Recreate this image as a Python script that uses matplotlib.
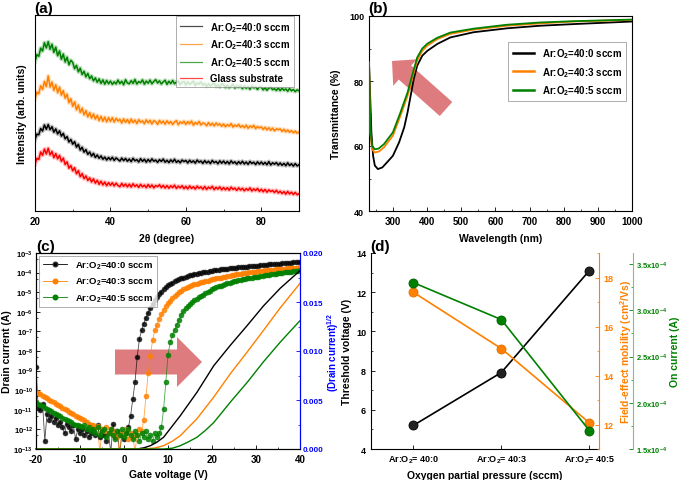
import numpy as np
import matplotlib
matplotlib.use("Agg")
import matplotlib.pyplot as plt
from matplotlib.ticker import MultipleLocator, LogLocator, NullFormatter, FixedLocator

# ======================
# DATA
# ======================
# (a) XRD, 2theta grid 20..90 step 0.5 (arb. units)
TWO_THETA = np.arange(20.0, 90.5, 0.5)
XRD_GREEN = [
    76.2, 79.8, 78.9, 83.1, 81.6, 85.9, 83.2, 86.4, 82.5, 85.1,
    80.9, 83.6, 79.2, 81.7, 77.4, 80.1, 76.0, 78.5, 74.6, 76.9,
    75.8, 72.6, 74.3, 71.0, 72.9, 69.6, 71.3, 68.4, 70.2, 67.5,
    68.9, 66.4, 67.9, 65.7, 67.4, 65.1, 66.9, 64.7, 66.6, 64.9,
    66.3, 64.6, 65.9, 64.8, 66.8, 65.0, 66.2, 64.4, 67.0, 65.3,
    64.9, 66.5, 65.1, 67.1, 64.8, 66.0, 65.4, 66.9, 64.7, 66.3,
    65.2, 66.8, 64.9, 66.1, 67.0, 65.3, 66.4, 64.8, 65.9, 66.7,
    64.6, 66.2, 65.0, 66.6, 64.9, 65.8, 66.3, 64.5, 65.7, 66.1,
    64.3, 65.9, 64.6, 65.5, 66.2, 64.1, 65.3, 64.8, 65.9, 64.2,
    65.0, 63.6, 64.9, 63.8, 64.7, 65.3, 63.5, 64.4, 63.2, 64.8,
    64.5, 63.0, 64.2, 62.9, 63.8, 64.6, 62.7, 63.9, 63.1, 64.0,
    62.4, 63.8, 62.6, 63.5, 62.1, 63.9, 62.8, 63.3, 62.0, 63.4,
    63.2, 61.8, 62.9, 61.6, 62.7, 63.1, 61.9, 62.4, 61.5, 62.8,
    61.4, 62.7, 61.6, 62.3, 61.1, 62.5, 61.3, 62.0, 60.9, 61.8,
    61.3,
]
XRD_ORANGE = [
    57.1, 60.6, 59.8, 63.9, 62.0, 66.1, 63.4, 68.9, 63.2, 65.8,
    61.6, 64.4, 60.3, 63.2, 59.1, 61.4, 57.5, 59.6, 55.2, 57.3,
    53.4, 55.7, 51.6, 54.1, 50.3, 52.5, 49.1, 51.2, 48.0, 50.2,
    47.4, 49.5, 46.9, 48.8, 46.1, 48.3, 45.8, 47.9, 45.5, 47.7,
    45.7, 47.6, 45.4, 47.3, 45.9, 46.8, 44.9, 47.0, 45.2, 46.7,
    44.8, 46.9, 45.1, 46.4, 44.6, 46.6, 45.3, 46.0, 44.5, 46.5,
    45.0, 46.3, 44.4, 46.1, 45.6, 44.2, 46.2, 44.8, 45.9, 44.3,
    46.0, 44.6, 45.7, 44.1, 45.4, 46.1, 44.0, 45.5, 44.7, 45.8,
    44.2, 45.6, 44.5, 45.9, 43.8, 45.2, 44.3, 45.7, 43.9, 44.9,
    44.6, 43.5, 45.1, 43.7, 44.8, 43.4, 44.9, 43.8, 44.5, 43.2,
    44.4, 43.0, 44.1, 43.3, 44.6, 42.8, 43.9, 43.1, 44.2, 42.7,
    43.6, 42.5, 43.8, 42.2, 43.4, 42.6, 43.7, 42.0, 43.1, 42.4,
    42.9, 41.6, 42.7, 41.4, 42.5, 41.2, 42.3, 40.9, 41.9, 41.5,
    41.9, 40.6, 41.7, 40.4, 41.3, 40.2, 41.0, 39.9, 40.8, 39.7,
    40.3,
]
XRD_BLACK = [
    36.4, 39.2, 38.9, 42.1, 40.8, 43.9, 41.7, 44.1, 41.5, 43.0,
    40.2, 41.9, 39.3, 40.9, 38.2, 39.6, 36.8, 38.0, 35.2, 36.5,
    34.1, 35.4, 32.6, 34.0, 31.1, 32.5, 30.0, 31.3, 28.9, 30.1,
    28.0, 29.4, 27.3, 28.6, 26.9, 28.1, 26.4, 27.5, 26.0, 27.3,
    26.1, 27.4, 25.8, 27.1, 26.3, 25.5, 27.0, 25.7, 26.8, 25.4,
    26.5, 25.2, 26.9, 25.6, 26.2, 25.0, 26.7, 25.3, 26.4, 24.9,
    26.3, 25.1, 26.6, 25.4, 26.0, 24.8, 26.2, 25.3, 26.5, 24.9,
    25.9, 24.7, 26.1, 25.0, 26.4, 24.8, 25.7, 24.6, 26.0, 25.2,
    25.8, 24.5, 25.9, 24.8, 25.6, 24.4, 26.0, 24.9, 25.5, 24.3,
    25.7, 24.5, 25.4, 24.2, 25.8, 24.6, 25.3, 24.1, 25.6, 24.4,
    25.5, 24.2, 25.3, 24.0, 25.6, 24.4, 25.1, 23.9, 25.2, 24.1,
    25.4, 24.0, 25.0, 23.8, 25.3, 24.2, 24.9, 23.7, 25.1, 23.9,
    25.0, 23.8, 24.8, 23.6, 25.2, 23.5, 24.6, 23.9, 24.7, 23.4,
    24.5, 23.3, 24.3, 23.1, 24.6, 23.2, 24.1, 22.9, 24.2, 23.0,
    23.6,
]
XRD_GLASS = [
    23.8, 26.9, 26.3, 30.1, 28.4, 31.6, 29.1, 32.0, 28.6, 30.4,
    27.2, 29.3, 26.6, 28.4, 25.3, 27.0, 23.7, 25.1, 21.8, 23.2,
    20.5, 22.1, 19.0, 20.6, 17.5, 19.1, 16.5, 17.9, 15.6, 16.9,
    14.8, 16.4, 14.2, 15.7, 13.6, 15.2, 13.3, 14.8, 12.9, 14.5,
    13.1, 14.4, 12.8, 14.2, 13.0, 12.4, 14.1, 12.6, 13.8, 12.3,
    13.7, 12.2, 13.9, 12.5, 13.4, 12.0, 13.6, 12.3, 13.2, 11.9,
    13.5, 12.1, 13.3, 11.8, 13.0, 12.4, 13.4, 11.9, 13.1, 11.7,
    13.0, 11.6, 12.9, 11.9, 13.2, 11.5, 12.7, 11.8, 12.9, 11.4,
    12.6, 11.3, 12.8, 11.5, 12.4, 11.2, 12.7, 11.6, 12.3, 11.1,
    12.5, 11.0, 12.2, 11.4, 12.6, 10.9, 12.1, 11.2, 12.3, 10.8,
    12.0, 10.8, 11.9, 10.6, 12.2, 11.0, 11.7, 10.5, 11.8, 10.7,
    11.6, 10.3, 11.4, 10.6, 11.8, 10.2, 11.3, 10.4, 11.5, 10.0,
    11.1, 9.8, 11.0, 9.6, 10.8, 9.9, 10.5, 9.4, 10.6, 9.2,
    10.1, 8.9, 9.9, 8.6, 10.0, 8.7, 9.6, 8.4, 9.5, 8.3,
    8.8,
]

# (b) transmittance
WL_40_0 = [230, 232, 237, 242, 247, 256, 269, 283, 300, 318, 333, 343, 352, 361, 371,
           386, 401, 430, 468, 536, 633, 730, 827, 1000]
T_40_0 = [85.7, 79.6, 64.2, 57.0, 54.0, 52.9, 53.4, 55.0, 57.0, 61.1, 65.7, 70.4, 75.5,
          80.6, 84.7, 87.8, 89.3, 91.4, 93.4, 95.0, 96.2, 97.0, 97.5, 98.3]
WL_40_3 = [230, 234, 239, 247, 259, 274, 300, 322, 343, 357, 371, 386, 401, 430, 468,
           536, 633, 730, 827, 1000]
T_40_3 = [85.7, 64.0, 59.0, 58.0, 58.3, 59.6, 63.2, 69.3, 75.5, 81.1, 86.3, 89.3, 90.9,
          92.9, 94.5, 95.8, 97.0, 97.7, 98.3, 98.8]
WL_40_5 = [230, 234, 239, 247, 258, 274, 300, 322, 343, 357, 371, 386, 401, 430, 468,
           536, 633, 730, 827, 1000]
T_40_5 = [85.7, 65.0, 60.0, 59.0, 59.2, 60.6, 64.2, 70.3, 76.5, 82.0, 87.2, 90.0, 91.5,
          93.3, 94.9, 96.1, 97.3, 98.0, 98.4, 98.9]

# (c) transfer curves, VG grid -20..40 step 0.5, log10(ID)
VG = np.arange(-20.0, 40.5, 0.5)
LOG_ID_40_0 = [
    -8.8, -10.9, -11.0, -10.7, -12.6, -11.2, -11.5, -11.3, -11.6, -11.4,
    -11.8, -11.6, -11.9, -12.2, -11.7, -11.9, -12.1, -11.8, -12.5, -12.0,
    -12.2, -12.0, -12.3, -12.1, -12.4, -12.2, -12.0, -12.3, -11.8, -12.4,
    -12.1, -12.3, -12.6, -12.2, -13.2, -11.7, -12.4, -12.1, -13.2, -12.3,
    -12.5, -12.2, -11.9, -11.3, -10.45, -9.6, -8.3, -7.4, -6.95, -6.6,
    -6.3, -6.05, -5.8, -5.58, -5.4, -5.25, -5.1, -4.97, -4.85, -4.74,
    -4.65, -4.58, -4.51, -4.45, -4.39, -4.34, -4.29, -4.25, -4.21, -4.17,
    -4.14, -4.11, -4.08, -4.06, -4.03, -4.01, -3.99, -3.97, -3.95, -3.93,
    -3.91, -3.89, -3.87, -3.86, -3.84, -3.83, -3.81, -3.80, -3.78, -3.77,
    -3.76, -3.74, -3.73, -3.72, -3.71, -3.70, -3.69, -3.68, -3.67, -3.66,
    -3.65, -3.64, -3.62, -3.61, -3.60, -3.59, -3.58, -3.57, -3.56, -3.56,
    -3.55, -3.54, -3.53, -3.52, -3.51, -3.50, -3.49, -3.48, -3.48, -3.47,
    -3.46,
]
LOG_ID_40_3 = [
    -10.1, -10.15, -10.2, -10.3, -10.35, -10.4, -10.5, -10.55, -10.6, -10.7,
    -10.75, -10.8, -10.9, -10.95, -11.0, -11.1, -11.15, -11.2, -11.3, -11.35,
    -11.4, -11.45, -11.5, -11.6, -11.7, -11.75, -11.8, -11.9, -11.85, -13.2,
    -12.0, -12.1, -11.9, -12.2, -12.0, -12.3, -12.1, -12.4, -13.2, -12.2,
    -12.3, -12.0, -12.5, -12.2, -12.4, -13.1, -12.3, -12.0, -12.1, -11.5,
    -10.3, -9.1, -8.23, -7.45, -6.95, -6.65, -6.35, -6.12, -5.9, -5.7,
    -5.55, -5.43, -5.3, -5.19, -5.08, -4.99, -4.92, -4.86, -4.8, -4.74,
    -4.68, -4.64, -4.6, -4.57, -4.54, -4.5, -4.47, -4.44, -4.41, -4.38,
    -4.35, -4.32, -4.30, -4.27, -4.25, -4.22, -4.20, -4.17, -4.15, -4.13,
    -4.11, -4.09, -4.07, -4.05, -4.04, -4.02, -4.01, -3.99, -3.98, -3.96,
    -3.95, -3.93, -3.92, -3.90, -3.89, -3.88, -3.87, -3.86, -3.85, -3.84,
    -3.83, -3.82, -3.81, -3.80, -3.79, -3.78, -3.77, -3.76, -3.75, -3.74,
    -3.72,
]
LOG_ID_40_5 = [
    -10.6, -10.7, -10.75, -10.8, -10.9, -10.95, -11.0, -11.05, -11.15, -11.2,
    -11.25, -11.3, -11.4, -11.45, -11.5, -11.55, -11.6, -11.7, -11.75, -11.8,
    -11.85, -11.9, -11.8, -12.0, -11.9, -12.1, -12.0, -12.2, -11.9, -12.3,
    -12.1, -12.0, -12.4, -12.2, -12.0, -12.3, -12.5, -12.1, -12.3, -12.0,
    -12.4, -12.2, -12.0, -12.3, -12.5, -12.1, -12.3, -12.6, -12.2, -12.4,
    -12.1, -12.5, -12.3, -12.6, -12.2, -12.4, -12.2, -11.9, -10.96, -9.6,
    -8.2, -7.55, -7.2, -6.95, -6.65, -6.4, -6.18, -5.98, -5.83, -5.7,
    -5.58, -5.48, -5.4, -5.33, -5.26, -5.19, -5.12, -5.06, -5.0, -4.93,
    -4.85, -4.8, -4.75, -4.7, -4.66, -4.62, -4.58, -4.55, -4.51, -4.48,
    -4.45, -4.42, -4.4, -4.37, -4.35, -4.32, -4.3, -4.28, -4.26, -4.24,
    -4.22, -4.2, -4.18, -4.16, -4.14, -4.12, -4.11, -4.09, -4.07, -4.06,
    -4.04, -4.02, -4.01, -3.99, -3.98, -3.96, -3.95, -3.93, -3.92, -3.9,
    -3.89,
]
# (c) sqrt(ID) lines
VG_SQ_40_0 = [-20, 2.9, 4.5, 6.0, 7.5, 9.0, 12.8, 16.6, 20.4, 24.2, 28.0, 31.7, 35.5, 40]
SQ_40_0 = [0, 0, 0.00012, 0.00034, 0.0007, 0.0012, 0.0034, 0.0058, 0.0085, 0.0106,
           0.0126, 0.0146, 0.0164, 0.0182]
VG_SQ_40_3 = [-20, 4.4, 7.0, 9.0, 11.0, 12.8, 16.6, 20.4, 24.2, 28.0, 31.7, 35.5, 40]
SQ_40_3 = [0, 0, 0.0001, 0.00034, 0.0008, 0.00136, 0.0031, 0.0053, 0.0077, 0.0099,
           0.0121, 0.0144, 0.0169]
VG_SQ_40_5 = [-20, 9.0, 11.0, 12.8, 14.5, 16.6, 18.5, 20.4, 24.2, 28.0, 31.7, 35.5, 40]
SQ_40_5 = [0, 0, 0.00008, 0.00034, 0.0007, 0.0012, 0.0019, 0.0027, 0.0048, 0.0068,
           0.0089, 0.0109, 0.0131]

# (d) device parameters
CONDITIONS = ["Ar:O$_2$= 40:0", "Ar:O$_2$= 40:3", "Ar:O$_2$= 40:5"]
V_TH = [5.2, 7.9, 13.1]
MOBILITY = [17.4, 15.1, 12.07]
I_ON = [3.30e-4, 2.90e-4, 1.70e-4]

SERIES_LABELS = ["Ar:O$_2$=40:0 sccm", "Ar:O$_2$=40:3 sccm", "Ar:O$_2$=40:5 sccm"]

# ======================
# STYLE
# ======================
plt.rcParams["font.family"] = ["Liberation Sans", "DejaVu Sans"]
plt.rcParams["font.weight"] = "bold"
plt.rcParams["axes.labelweight"] = "bold"
plt.rcParams["axes.unicode_minus"] = False
plt.rcParams["mathtext.fontset"] = "custom"
plt.rcParams["mathtext.rm"] = "Liberation Sans:bold"
plt.rcParams["mathtext.bf"] = "Liberation Sans:bold"
plt.rcParams["mathtext.it"] = "Liberation Sans:bold:italic"
plt.rcParams["mathtext.default"] = "bf"
plt.rcParams["axes.linewidth"] = 0.8
plt.rcParams["xtick.direction"] = "in"
plt.rcParams["ytick.direction"] = "in"
plt.rcParams["xtick.labelsize"] = 7
plt.rcParams["ytick.labelsize"] = 6.5
plt.rcParams["axes.labelsize"] = 7.5
plt.rcParams["legend.fontsize"] = 7

BLACK, ORANGE, GREEN, RED, BLUE = "#000000", "#ff8000", "#008000", "#ff0000", "#0000ff"
ARROW_C = "#dc7478"
W, H = 685, 481


def box(l, t, r, b):
    return [l / W, 1 - b / H, (r - l) / W, (b - t) / H]


def ticks(ax, **kw):
    ax.tick_params(which="major", length=3, width=0.6, **kw)
    ax.tick_params(which="minor", length=1.6, width=0.5, **kw)


fig = plt.figure(figsize=(W / 100, H / 100), dpi=100)

# ======================
# (a) XRD
# ======================
ax_a = fig.add_axes(box(35, 16, 299, 212))
for ys, col, lab in [(XRD_BLACK, BLACK, SERIES_LABELS[0]),
                     (XRD_ORANGE, ORANGE, SERIES_LABELS[1]),
                     (XRD_GREEN, GREEN, SERIES_LABELS[2]),
                     (XRD_GLASS, RED, "Glass substrate")]:
    # faint wide trace underneath gives the noisy band look
    ax_a.plot(TWO_THETA, ys, color=col, lw=3.0, alpha=0.25)
    ax_a.plot(TWO_THETA, ys, color=col, lw=1.1, label=lab)
ax_a.set_xlim(20, 90)
ax_a.set_ylim(0, 100)
ax_a.xaxis.set_major_locator(MultipleLocator(20))
ax_a.xaxis.set_minor_locator(MultipleLocator(10))
ax_a.set_yticks([])
ticks(ax_a, axis="x")
ax_a.set_xlabel("2θ (degree)", labelpad=5)
ax_a.set_ylabel("Intensity (arb. units)", labelpad=6)
leg = ax_a.legend(loc="upper right", bbox_to_anchor=(0.985, 1.0), frameon=True, fancybox=False,
                  edgecolor="#888888", handlelength=2.3, borderpad=0.4, labelspacing=0.4,
                  borderaxespad=0.1)
leg.get_frame().set_linewidth(0.6)
for h in leg.get_lines():
    h.set_linewidth(0.9)
    h.set_alpha(0.7)

# ======================
# (b) Transmittance
# ======================
ax_b = fig.add_axes(box(369, 17, 632, 212))
ax_b.plot(WL_40_0, T_40_0, color=BLACK, lw=1.3, label=SERIES_LABELS[0], zorder=3)
ax_b.plot(WL_40_3, T_40_3, color=ORANGE, lw=1.3, label=SERIES_LABELS[1], zorder=3)
ax_b.plot(WL_40_5, T_40_5, color=GREEN, lw=1.3, label=SERIES_LABELS[2], zorder=3)
ax_b.set_xlim(230, 1000)
ax_b.set_ylim(40, 100)
ax_b.xaxis.set_major_locator(MultipleLocator(100))
ax_b.xaxis.set_minor_locator(MultipleLocator(50))
ax_b.yaxis.set_major_locator(MultipleLocator(20))
ax_b.yaxis.set_minor_locator(MultipleLocator(10))
ticks(ax_b)
ax_b.set_xlabel("Wavelength (nm)", labelpad=5)
ax_b.set_ylabel("Transmittance (%)", labelpad=6)
leg = ax_b.legend(loc="upper left", bbox_to_anchor=(0.53, 0.865), frameon=True, fancybox=False,
                  edgecolor="#888888", handlelength=2.2, borderpad=0.45, labelspacing=0.45,
                  borderaxespad=0)
leg.get_frame().set_linewidth(0.6)
for h in leg.get_lines():
    h.set_linewidth(1.8)
ax_b.annotate("", xy=(392, H - 62), xytext=(446, H - 110), xycoords="figure pixels",
              textcoords="figure pixels", zorder=2,
              arrowprops=dict(arrowstyle="simple,head_length=12.5,head_width=25.5,tail_width=13.5",
                              mutation_scale=1, fc=ARROW_C, ec="none", alpha=0.95,
                              shrinkA=0, shrinkB=0))

# ======================
# (c) Transfer curves
# ======================
ax_c = fig.add_axes(box(36, 254, 300, 450))
for logid, col, lab in [(LOG_ID_40_0, BLACK, SERIES_LABELS[0]),
                        (LOG_ID_40_3, ORANGE, SERIES_LABELS[1]),
                        (LOG_ID_40_5, GREEN, SERIES_LABELS[2])]:
    edge = "#303030" if col == BLACK else col
    ax_c.plot(VG, 10.0 ** np.array(logid), "-", color=col, lw=0.6, alpha=0.7, zorder=3)
    ax_c.plot(VG, 10.0 ** np.array(logid), "o", ms=3.6, mfc=col, mec=edge, mew=0.4,
              alpha=0.85, zorder=4)
    ax_c.plot([], [], "-o", color=col, lw=0.6, ms=3.3, mfc=col, mec=edge, label=lab)
ax_c.set_yscale("log")
ax_c.set_xlim(-20, 40)
ax_c.set_ylim(1e-13, 1e-3)
ax_c.yaxis.set_major_locator(LogLocator(base=10, numticks=20))
ax_c.yaxis.set_minor_locator(LogLocator(base=10, subs=[5], numticks=20))
ax_c.yaxis.set_minor_formatter(NullFormatter())
ax_c.xaxis.set_major_locator(MultipleLocator(10))
ax_c.xaxis.set_minor_locator(MultipleLocator(5))
ticks(ax_c)
ax_c.tick_params(axis="y", labelsize=5.6, pad=2)
ax_c.set_xlabel("Gate voltage (V)", labelpad=4)
ax_c.set_ylabel("Drain current (A)", labelpad=1)
leg = ax_c.legend(loc="upper left", frameon=True, fancybox=False, edgecolor="#888888",
                  handlelength=2.6, borderpad=0.4, labelspacing=0.5, borderaxespad=0.3,
                  fontsize=6.8)
leg.get_frame().set_linewidth(0.6)
ax_c.annotate("", xy=(202, H - 363), xytext=(115, H - 363), xycoords="figure pixels",
              textcoords="figure pixels", zorder=2,
              arrowprops=dict(arrowstyle="simple,head_length=18,head_width=36,tail_width=18",
                              mutation_scale=1, fc=ARROW_C, ec="none", alpha=0.95,
                              shrinkA=0, shrinkB=0))

ax_c2 = ax_c.twinx()
ax_c2.plot(VG_SQ_40_0, SQ_40_0, color=BLACK, lw=1.0, clip_on=False)
ax_c2.plot(VG_SQ_40_3, SQ_40_3, color=ORANGE, lw=1.0, clip_on=False)
ax_c2.plot(VG_SQ_40_5, SQ_40_5, color=GREEN, lw=1.0, clip_on=False)
ax_c2.set_ylim(0, 0.020)
ax_c2.yaxis.set_major_locator(MultipleLocator(0.005))
ax_c2.yaxis.set_minor_locator(MultipleLocator(0.0025))
ax_c2.yaxis.set_major_formatter(matplotlib.ticker.FormatStrFormatter("%.3f"))
ticks(ax_c2, colors=BLUE)
ax_c2.tick_params(axis="y", labelsize=5.8, pad=2)
ax_c2.spines["right"].set_color(BLUE)
ax_c2.set_ylabel("(Drain current)$^{1/2}$", color=BLUE, labelpad=1, fontsize=7)

# ======================
# (d) Device parameters
# ======================
ax_d = fig.add_axes(box(371, 254, 599, 450))
pos = np.arange(len(CONDITIONS))
ax_d.plot(pos, V_TH, "-o", color=BLACK, lw=1.2, ms=6.5, mfc="#222222", mec="#000000",
          mew=0.6, zorder=3)
ax_d.set_xlim(-0.48, 2.11)
ax_d.set_ylim(4, 14)
ax_d.set_xticks(pos)
ax_d.set_xticklabels(CONDITIONS, fontsize=6.5)
ax_d.yaxis.set_major_locator(MultipleLocator(2))
ax_d.yaxis.set_minor_locator(MultipleLocator(1))
ticks(ax_d)
ax_d.spines["top"].set_visible(False)
ax_d.spines["right"].set_visible(False)
ax_d.set_xlabel("Oxygen partial pressure (sccm)", labelpad=3)
ax_d.set_ylabel("Threshold voltage (V)", labelpad=3)

ax_o = ax_d.twinx()
ax_o.plot(pos, MOBILITY, "-o", color=ORANGE, lw=1.2, ms=6.5, mfc=ORANGE, mec="#e07000",
          mew=0.6, zorder=3)
ax_o.set_ylim(11, 19)
ax_o.yaxis.set_major_locator(MultipleLocator(2))
ax_o.yaxis.set_minor_locator(MultipleLocator(1))
ticks(ax_o, colors=ORANGE)
for s in ["top", "left", "bottom"]:
    ax_o.spines[s].set_visible(False)
ax_o.spines["right"].set_color(ORANGE)
ax_o.set_ylabel("Field-effect mobility (cm$^2$/Vs)", color=ORANGE, labelpad=3)

ax_g = ax_d.twinx()
ax_g.plot(pos, I_ON, "-o", color=GREEN, lw=1.2, ms=6.5, mfc=GREEN, mec="#006000",
          mew=0.6, zorder=3)
ax_g.set_ylim(1.5e-4, 3.62e-4)
g_ticks = [1.5e-4, 2.0e-4, 2.5e-4, 3.0e-4, 3.5e-4]
ax_g.yaxis.set_major_locator(FixedLocator(g_ticks))
ax_g.yaxis.set_minor_locator(MultipleLocator(0.25e-4))
ax_g.set_yticklabels(["%.1fx10$^{-4}$" % (t * 1e4) for t in g_ticks])
ticks(ax_g, colors=GREEN)
ax_g.tick_params(axis="y", labelsize=5.4, pad=2)
for s in ["top", "left", "bottom"]:
    ax_g.spines[s].set_visible(False)
ax_g.spines["right"].set_position(("outward", 24.5))
ax_g.spines["right"].set_color("#80c080")
ax_g.set_ylabel("On current (A)", color=GREEN, labelpad=2)

# ======================
# PANEL LABELS
# ======================
for txt, x, y in [("(a)", 34, 9), ("(b)", 368, 9), ("(c)", 36, 247), ("(d)", 370, 247)]:
    fig.text(x / W, 1 - y / H, txt, fontsize=11, fontweight="bold", va="center", ha="left")

fig.savefig("out.png", dpi=100)
